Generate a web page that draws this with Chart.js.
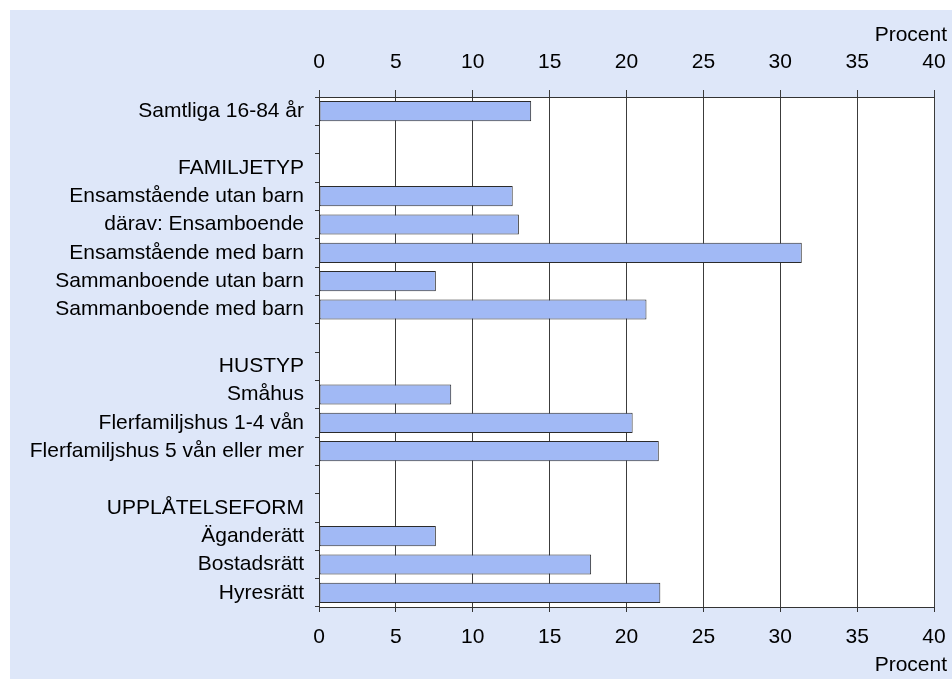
<!DOCTYPE html>
<html>
<head>
<meta charset="utf-8">
<script src="https://cdn.jsdelivr.net/npm/chart.js@4/dist/chart.umd.min.js"></script>
<style>
  html, body { margin: 0; padding: 0; background: #ffffff; }
  #wrap { position: absolute; left: 10px; top: 10px; width: 942px; height: 669px; background: #dee7f9; }
</style>
</head>
<body>
<div id="wrap"><canvas id="chart" width="942" height="669"></canvas></div>
<script>
// rows from top to bottom, headers have no value
const categories = [
  'Samtliga 16-84 år',
  '',
  'FAMILJETYP',
  'Ensamstående utan barn',
  'därav: Ensamboende',
  'Ensamstående med barn',
  'Sammanboende utan barn',
  'Sammanboende med barn',
  '',
  'HUSTYP',
  'Småhus',
  'Flerfamiljshus 1-4 vån',
  'Flerfamiljshus 5 vån eller mer',
  '',
  'UPPLÅTELSEFORM',
  'Äganderätt',
  'Bostadsrätt',
  'Hyresrätt'
];
const values = [13.8, null, null, 12.6, 13.0, 31.4, 7.6, 21.3, null, null, 8.6, 20.4, 22.1, null, null, 7.6, 17.7, 22.2];
const axisMin = 0;
const axisMax = 40;
const axisStep = 5;
const axisTitle = 'Procent';

const fontFamily = '"Liberation Sans", Arial, sans-serif';
Chart.defaults.font.family = fontFamily;
Chart.defaults.font.size = 21;
Chart.defaults.color = '#000';

const plotBg = {
  id: 'plotBg',
  beforeDraw(chart) {
    const a = chart.chartArea, ctx = chart.ctx;
    ctx.save();
    ctx.fillStyle = '#ffffff';
    ctx.fillRect(a.left, a.top, a.right - a.left, a.bottom - a.top);
    ctx.restore();
  }
};

// "Procent" above the top axis and below the bottom axis
const unitLabels = {
  id: 'unitLabels',
  afterDraw(chart) {
    const ctx = chart.ctx;
    ctx.save();
    ctx.font = '21px ' + fontFamily;
    ctx.fillStyle = '#000';
    ctx.textAlign = 'right';
    ctx.textBaseline = 'middle';
    ctx.fillText(axisTitle, 937, 25);
    ctx.fillText(axisTitle, 937, 655);
    ctx.restore();
  }
};

const ctx = document.getElementById('chart');
new Chart(ctx, {
  type: 'bar',
  data: {
    labels: categories,
    datasets: [{
      data: values,
      backgroundColor: '#a1b9f5',
      borderColor: '#2b2b2b',
      borderWidth: 1,
      borderSkipped: false,
      barPercentage: 0.71,
      categoryPercentage: 1.0,
      xAxisID: 'x',
      yAxisID: 'y'
    }]
  },
  options: {
    indexAxis: 'y',
    responsive: false,
    animation: false,
    devicePixelRatio: 1,
    layout: { padding: { left: 0, right: 18, top: 0, bottom: 0 } },
    plugins: { legend: { display: false }, tooltip: { enabled: false } },
    scales: {
      y: {
        type: 'category',
        position: 'left',
        grid: { display: true, drawOnChartArea: false, drawTicks: true, tickLength: 4, offset: true, color: '#333' },
        border: { display: true, color: '#333' },
        ticks: { autoSkip: false, padding: 11, color: '#000' },
        afterFit(s) { s.width = 309; }
      },
      x: {
        type: 'linear',
        position: 'bottom',
        min: axisMin,
        max: axisMax,
        ticks: { stepSize: axisStep, padding: 13, color: '#000' },
        grid: { drawOnChartArea: false, drawTicks: true, tickLength: 5, color: '#333' },
        border: { display: true, color: '#333' },
        afterFit(s) { s.height = 72; s.paddingLeft = 0; s.paddingRight = 0; }
      },
      x2: {
        type: 'linear',
        axis: 'x',
        position: 'top',
        min: axisMin,
        max: axisMax,
        ticks: { stepSize: axisStep, padding: 15, color: '#000' },
        grid: { drawOnChartArea: true, drawTicks: true, tickLength: 7, color: '#3c3c3c' },
        border: { display: true, color: '#333' },
        afterFit(s) { s.height = 87; s.paddingLeft = 0; s.paddingRight = 0; }
      }
    }
  },
  plugins: [plotBg, unitLabels]
});
</script>
</body>
</html>
